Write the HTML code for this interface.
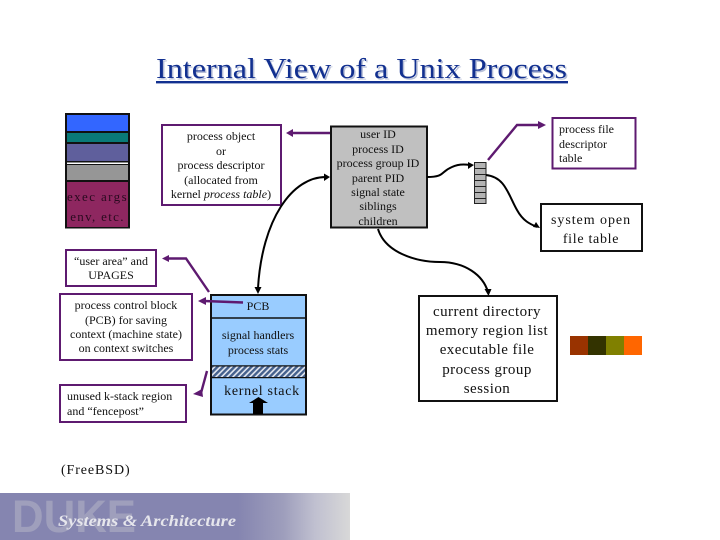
<!DOCTYPE html>
<html><head><meta charset="utf-8"><style>
html,body{margin:0;padding:0;background:#fff}
svg{display:block}
text{font-family:"Liberation Serif",serif;font-size:12px;fill:#111;text-anchor:middle}
text.b{font-size:15px;letter-spacing:.45px}
</style></head><body>
<svg width="720" height="540" viewBox="0 0 720 540" xmlns="http://www.w3.org/2000/svg">
<defs>
<pattern id="h" width="4" height="4" patternUnits="userSpaceOnUse" patternTransform="rotate(45)"><rect width="4" height="4" fill="#e4e8f0"/><rect width="2.400" height="4" fill="#44608c"/></pattern>
<linearGradient id="g" x1="0" x2="1" y1="0" y2="0"><stop offset="0" stop-color="#8585b0"/><stop offset=".68" stop-color="#8585b0"/><stop offset=".81" stop-color="#9e9ebc"/><stop offset=".9" stop-color="#c0c0d0"/><stop offset="1" stop-color="#d8d8d8"/></linearGradient>
</defs>
<text x="361.500" y="78" style="font-size:28px;fill:#b8c0d8" textLength="411" lengthAdjust="spacingAndGlyphs" transform="translate(1.500,1.500)">Internal View of a Unix Process</text>
<text x="361.500" y="78" style="font-size:28px;fill:#123090" textLength="411" lengthAdjust="spacingAndGlyphs">Internal View of a Unix Process</text>
<rect x="156" y="81" width="412" height="2.400" fill="#123090"/>
<rect x="65" y="113" width="65" height="115.500" fill="#111"/>
<rect x="67" y="115" width="61" height="16" fill="#3366ff"/>
<rect x="67" y="133" width="61" height="9" fill="#097a78"/>
<rect x="67" y="144" width="61" height="17" fill="#5f5f9c"/>
<rect x="67" y="162.500" width="61" height="1.500" fill="#fff"/>
<rect x="67" y="165" width="61" height="15" fill="#969696"/>
<rect x="67" y="182" width="61" height="45" fill="#8e2760"/>
<text x="97.500" y="201" style="font-size:13px;letter-spacing:1.400px;fill:#2a0a20">exec args</text>
<text x="97.500" y="221" style="font-size:13px;letter-spacing:1.300px;fill:#2a0a20">env, etc.</text>
<g fill="#fff" stroke="#5e1a70" stroke-width="2">
<rect x="162" y="125" width="119" height="80"/>
<rect x="66" y="250" width="90" height="36"/>
<rect x="60" y="294" width="132" height="66"/>
<rect x="60" y="385" width="126" height="37"/>
<rect x="552.500" y="118" width="83" height="50.500"/>
</g>
<text x="221" y="140">process object</text>
<text x="221" y="155">or</text>
<text x="221" y="169">process descriptor</text>
<text x="221" y="184">(allocated from</text>
<text x="221" y="198">kernel <tspan font-style="italic">process table</tspan>)</text>
<text x="111" y="265">“user area” and</text>
<text x="111" y="279">UPAGES</text>
<text x="126" y="309">process control block</text>
<text x="126" y="324">(PCB) for saving</text>
<text x="126" y="338">context (machine state)</text>
<text x="126" y="352">on context switches</text>
<text x="67" y="400" style="text-anchor:start">unused k-stack region</text>
<text x="67" y="415" style="text-anchor:start">and “fencepost”</text>
<text x="559" y="133" style="text-anchor:start">process file</text>
<text x="559" y="148" style="text-anchor:start">descriptor</text>
<text x="559" y="162" style="text-anchor:start">table</text>
<text x="61" y="474" style="font-size:14px;text-anchor:start;letter-spacing:.9px">(FreeBSD)</text>
<rect x="211" y="295" width="95" height="119.500" fill="#99ccff" stroke="#111" stroke-width="2"/>
<path d="M211 318H306M211 366H306M211 377.500H306" stroke="#111" stroke-width="1.500"/>
<rect x="212" y="366.500" width="93" height="10.500" fill="url(#h)"/>
<text x="258" y="310">PCB</text>
<text x="258" y="339">signal handlers</text>
<text x="258" y="354">process stats</text>
<text x="262" y="395" style="font-size:14px;letter-spacing:.7px">kernel stack</text>
<path d="M258.500 397L268 403H263V414H253V403H249Z" fill="#000"/>
<rect x="331" y="126.500" width="96" height="101" fill="#c0c0c0" stroke="#111" stroke-width="2"/>
<text x="378" y="138">user ID</text>
<text x="378" y="153">process ID</text>
<text x="378" y="167">process group ID</text>
<text x="378" y="182">parent PID</text>
<text x="378" y="196">signal state</text>
<text x="378" y="210">siblings</text>
<text x="378" y="225">children</text>
<rect x="474.500" y="162.500" width="11.500" height="41" fill="#b4b4b4" stroke="#222" stroke-width="1"/>
<path d="M474 168.500H486M474 174.500H486M474 180.500H486M474 186.500H486M474 192.500H486M474 198.500H486" stroke="#222" stroke-width="1"/>
<rect x="541" y="204" width="101" height="47" fill="#fff" stroke="#111" stroke-width="2"/>
<text x="591" y="224" style="font-size:14px;letter-spacing:.95px">system open</text>
<text x="591" y="243" style="font-size:14px;letter-spacing:.7px">file table</text>
<rect x="419" y="296" width="138" height="105" fill="#fff" stroke="#111" stroke-width="2"/>
<text class="b" x="487" y="316">current directory</text>
<text class="b" x="487" y="335">memory region list</text>
<text class="b" x="487" y="354">executable file</text>
<text class="b" x="487" y="374">process group</text>
<text class="b" x="487" y="393">session</text>
<rect x="570" y="336" width="18" height="19" fill="#993300"/>
<rect x="588" y="336" width="18" height="19" fill="#333300"/>
<rect x="606" y="336" width="18" height="19" fill="#808000"/>
<rect x="624" y="336" width="18" height="19" fill="#ff6600"/>
<g fill="none" stroke="#5e1a70" stroke-width="2.400">
<path d="M330 133H291"/>
<path d="M209 292L186 258.500H167"/>
<path d="M243 302.500L204 301"/>
<path d="M207 371L201 393"/>
<path d="M488 160L517 125H540"/>
</g>
<g fill="#5e1a70">
<path d="M286 133L293 129V137Z"/>
<path d="M162 258.500L169 255V262Z"/>
<path d="M198 301L206 297V305Z"/>
<path d="M193 394L202 389L203 397Z"/>
<path d="M546 125L538 121V129Z"/>
</g>
<g fill="none" stroke="#000" stroke-width="2">
<path d="M327 177C292 176 262 220 258 288"/>
<path d="M427 177C445 177 440 172 452 167C458 164 464 164 470 165"/>
<path d="M486 175C505 177 508 194 517 210C523 221 530 224 537 227"/>
<path d="M378 229C385 252 415 262 440 262C465 262 483 275 488 292"/>
</g>
<g fill="#000">
<path d="M330 177L324 173.500V181Z"/>
<path d="M258 294L254.500 287H261.500Z"/>
<path d="M474 165L468 162V169Z"/>
<path d="M540 228L533 227L536 222Z"/>
<path d="M488.500 296L484.500 289H491.500Z"/>
</g>
<rect x="0" y="493" width="350" height="47" fill="url(#g)"/>
<text x="12" y="532" style="font-family:'Liberation Sans',sans-serif;font-weight:bold;font-size:45px;fill:#9f9fbc;text-anchor:start" textLength="124" lengthAdjust="spacingAndGlyphs">DUKE</text>
<text x="58" y="526" style="font-size:16px;font-style:italic;font-weight:bold;fill:#e6e6ec;text-anchor:start" textLength="178" lengthAdjust="spacingAndGlyphs">Systems &amp; Architecture</text>
</svg>
</body></html>
